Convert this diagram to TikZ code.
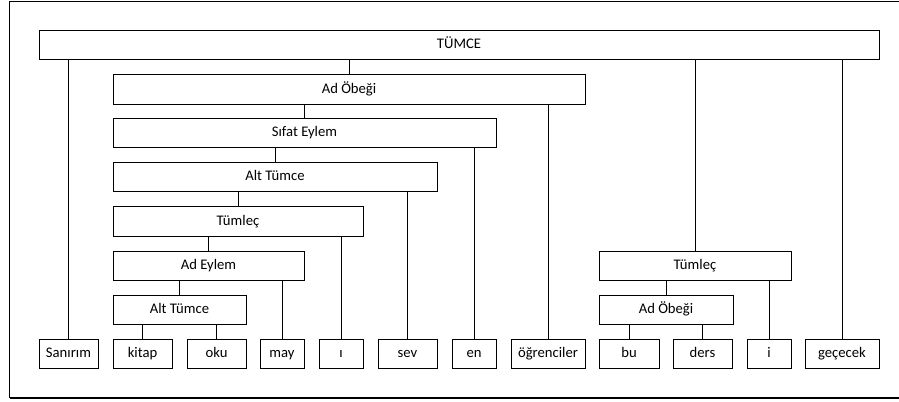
\documentclass[tikz,border=0pt]{standalone}
\usepackage{fontspec}
\setmainfont{Carlito}
\begin{document}
\begin{tikzpicture}[x=0.75pt,y=-0.75pt,
  box/.style={draw=black, line width=0.75pt, inner sep=0pt, outer sep=0pt,
    text height=7.6pt, text depth=2.4pt,
    font=\fontsize{11pt}{13pt}\selectfont, text=black},
  link/.style={draw=black, line width=0.75pt}]
\useasboundingbox (0,0) rectangle (899,402);
% frame round the whole tree (open on the right)
\draw[line width=0.9pt] (905,1.5) -- (9.5,1.5) -- (9.5,398);
\draw[line width=1.6pt] (9.5,398) -- (905,398);
% box from corner (x1,y1) to corner (x2,y2), in pixel units
\newcommand{\tbox}[6]{%
  \node[box, minimum width={(#4-#2)*0.75pt}, minimum height={(#5-#3)*0.75pt}]
    (#1) at ({(#2+#4)/2},{(#3+#5)/2}) {#6};}
% phrase boxes
\tbox{tumce}{39}{31}{879}{60}{TÜMCE}
\tbox{adob}{113}{75}{585}{105}{Ad Öbeği}
\tbox{sifat}{113}{119}{496}{148}{Sıfat Eylem}
\tbox{alta}{113}{163}{437}{192}{Alt Tümce}
\tbox{tumla}{113}{207}{363}{237}{Tümleç}
\tbox{adey}{113}{252}{304}{281}{Ad Eylem}
\tbox{altb}{113}{296}{246}{325}{Alt Tümce}
\tbox{tumlb}{599}{252}{791}{281}{Tümleç}
\tbox{adobb}{599}{296}{733}{325}{Ad Öbeği}
% word boxes
\tbox{w1}{39}{340}{98}{369}{Sanırım}
\tbox{w2}{113}{340}{172}{369}{kitap}
\tbox{w3}{187}{340}{246}{369}{oku}
\tbox{w4}{260}{340}{304}{369}{may}
\tbox{w5}{319}{340}{363}{369}{ı}
\tbox{w6}{378}{340}{437}{369}{sev}
\tbox{w7}{452}{340}{496}{369}{en}
\tbox{w8}{511}{340}{585}{369}{öğrenciler}
\tbox{w9}{599}{340}{659}{369}{bu}
\tbox{w10}{673}{340}{732}{369}{ders}
\tbox{w11}{747}{340}{791}{369}{i}
\tbox{w12}{805}{340}{879}{369}{geçecek}
% connectors: straight up from each child to its parent
\foreach \c/\p in {w1/tumce, adob/tumce, tumlb/tumce, w12/tumce,
                   sifat/adob, w8/adob,
                   alta/sifat, w7/sifat,
                   tumla/alta, w6/alta,
                   adey/tumla, w5/tumla,
                   altb/adey, w4/adey,
                   w2/altb, w3/altb,
                   adobb/tumlb, w11/tumlb,
                   w9/adobb, w10/adobb}
  \draw[link] (\c.north) -- (\c.north |- \p.south);
\end{tikzpicture}
\end{document}
